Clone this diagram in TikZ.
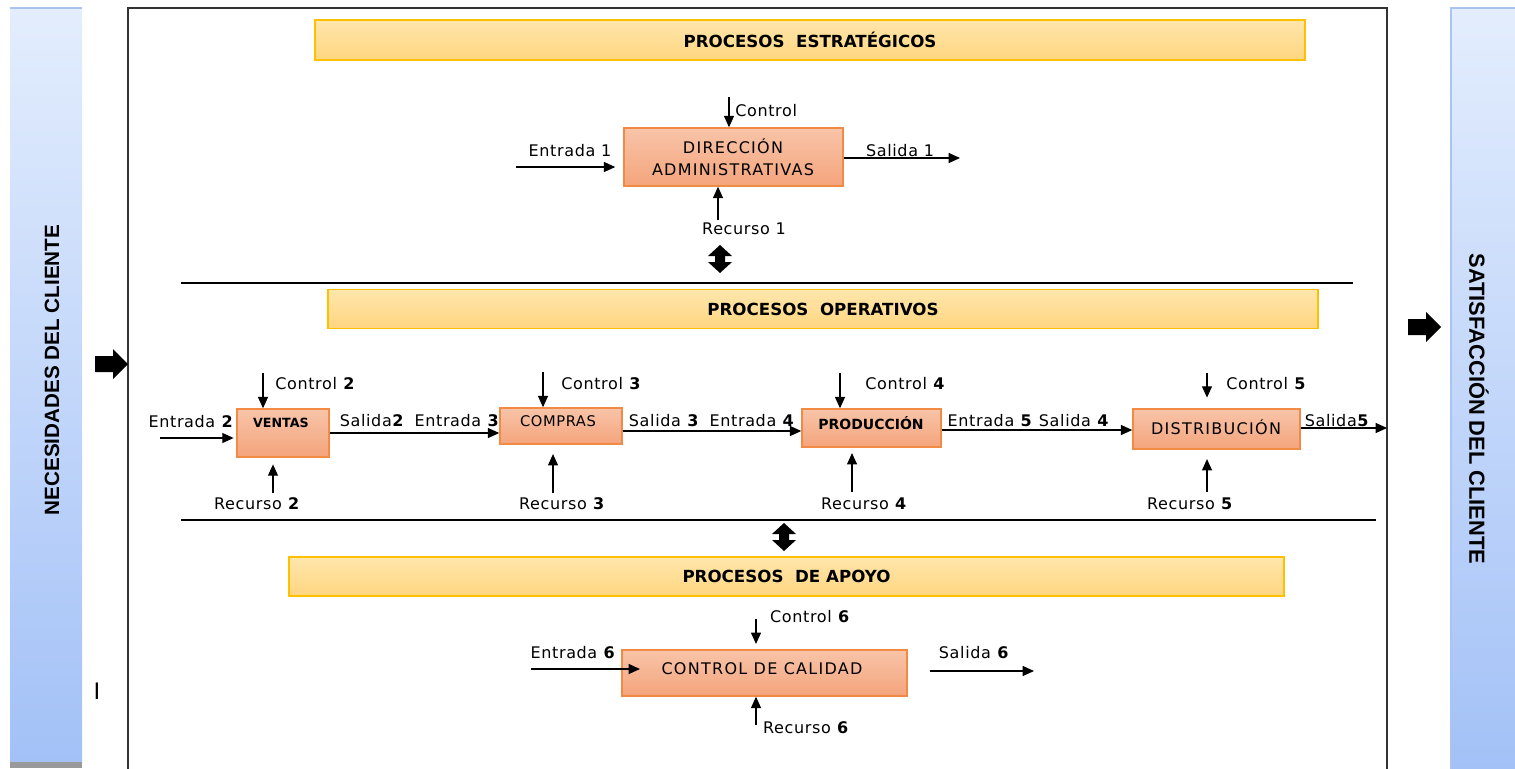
\documentclass[tikz,border=0pt]{standalone}
\usepackage{fontspec}
\setmainfont{DejaVu Sans}
\newfontfamily\lblfont[LetterSpace=4]{DejaVu Sans}
\newfontfamily\namefont[LetterSpace=8]{DejaVu Sans}
\newfontfamily\sidefont{Liberation Sans}
\usetikzlibrary{arrows.meta}

\definecolor{boxtop}{HTML}{F8C4A8}
\definecolor{boxbot}{HTML}{F4A47C}
\definecolor{boxedge}{HTML}{F08A45}
\definecolor{headtop}{HTML}{FFE6AC}
\definecolor{headbot}{HTML}{FFD680}
\definecolor{headedge}{HTML}{FFC000}
\definecolor{sidetop}{HTML}{E3EDFD}
\definecolor{sidebot}{HTML}{A3C1F7}
\definecolor{sideedge}{HTML}{A9C4EE}

\tikzset{
  updown/.pic={\fill (0,-14) -- (12,-3) -- (5,-3) -- (5,3) -- (12,3) -- (0,14)
                -- (-12,3) -- (-5,3) -- (-5,-3) -- (-12,-3) -- cycle;},
  fatarrow/.pic={\fill (-33,-8) -- (-15,-8) -- (-15,-15) -- (0,0) -- (-15,15)
                -- (-15,8) -- (-33,8) -- cycle;}
}

\begin{document}
\begin{tikzpicture}[x=0.75pt,y=-0.75pt,
  lbl/.style={font=\lblfont\fontsize{12}{13}\selectfont, inner sep=0pt},
  proc/.style={draw=boxedge, line width=1.1pt, top color=boxtop, bottom color=boxbot, inner sep=0pt},
  pname/.style={font=\namefont\fontsize{12}{16.5}\selectfont, inner sep=0pt, align=center},
  band/.style={draw=headedge, line width=1.1pt, top color=headtop, bottom color=headbot,
               inner sep=0pt, font=\bfseries\fontsize{12.5}{14}\selectfont},
  flow/.style={-{Triangle[length=8.5pt,width=7.5pt]}, line width=0.85pt},
  rule/.style={line width=1.1pt},
  side/.style={top color=sidetop, bottom color=sidebot, inner sep=0pt},
  sidetext/.style={font=\sidefont\bfseries\fontsize{15.5}{16}\selectfont, inner sep=0pt}
]
\useasboundingbox (0,0) rectangle (1515,768);
\clip (0,0) rectangle (1515,768);

% side bars
\node[side, minimum width={72*0.75pt}, minimum height={754*0.75pt}] (need) at (46,385) {};
\fill[black!40] (10,762) rectangle (82,768);
\draw[sideedge, line width=0.8pt] (10,8) -- (82,8);
\node[sidetext, rotate=90] (needtxt) at (52,370) {NECESIDADES DEL CLIENTE};

\node[side, draw=sideedge, line width=0.8pt, minimum width={80*0.75pt}, minimum height={765*0.75pt}] (sat) at (1491,390.5) {};
\node[sidetext, font=\sidefont\bfseries\fontsize{16.4}{17}\selectfont, rotate=-90] (sattxt) at (1479,409) {SATISFACCIÓN DEL CLIENTE};

\node[font=\sidefont\fontsize{18}{18}\selectfont, inner sep=0pt] (mark) at (97,691) {I};

% outer frame
\draw[line width=1.2pt, black!80] (128,8) rectangle (1387,790);

% fat arrows in and out
\pic at (128,364) {fatarrow};
\pic at (1441,327) {fatarrow};

% level bands
\node[band, minimum width={990*0.75pt}, minimum height={40*0.75pt}] (strat) at (810,40) {PROCESOS\ \ ESTRATÉGICOS};
\node[band, minimum width={990*0.75pt}, minimum height={39*0.75pt}] (oper) at (823,309) {PROCESOS\ \ OPERATIVOS};
\node[band, minimum width={995*0.75pt}, minimum height={39*0.75pt}] (apoyo) at (786.5,576.5) {PROCESOS\ \ DE APOYO};

\draw[rule] (181,283) -- (1353,283);
\draw[rule] (181,520) -- (1376,520);
\pic at (720,259) {updown};
\pic at (784,537) {updown};

% strategic process
\node[proc, minimum width={219*0.75pt}, minimum height={58*0.75pt}] (dir) at (733.5,157) {};
\node[pname] (dirname) at (733,157) {DIRECCIÓN\\ADMINISTRATIVAS};
\coordinate (c1) at (729,97);
\coordinate (r1) at (718,220);
\coordinate (e1) at (516,167);
\coordinate (s1) at (960,158);
\draw[flow] (c1) -- (c1 |- dir.north);
\draw[flow] (r1) -- (r1 |- dir.south);
\draw[flow, shorten >=6pt] (e1) -- (e1 -| dir.west);
\draw[flow] (dir.east |- s1) -- (s1);
\node[lbl, anchor=west] (c1l) at (735,111) {Control};
\node[lbl] (e1l) at (570,151) {Entrada 1};
\node[lbl] (s1l) at (900,151) {Salida 1};
\node[lbl] (r1l) at (744,229) {Recurso 1};

% operative processes
\node[proc, minimum width={92*0.75pt}, minimum height={48*0.75pt}] (ventas) at (283,433) {};
\node[font=\bfseries\fontsize{9.5}{11}\selectfont, inner sep=0pt] (ventasname) at (281,423) {VENTAS};
\node[proc, minimum width={122*0.75pt}, minimum height={36*0.75pt}] (compras) at (561,426) {};
\node[font=\lblfont\fontsize{11}{12}\selectfont, inner sep=0pt] (comprasname) at (558,421) {COMPRAS};
\node[proc, minimum width={139*0.75pt}, minimum height={38*0.75pt}] (prod) at (871.5,428) {};
\node[font=\bfseries\fontsize{10.5}{11}\selectfont, inner sep=0pt] (prodname) at (871,423) {PRODUCCIÓN};
\node[proc, minimum width={167*0.75pt}, minimum height={40*0.75pt}] (dist) at (1216.5,429) {};
\node[pname] (distname) at (1216,427) {DISTRIBUCIÓN};

\coordinate (row23) at (0,433);
\coordinate (row34) at (0,431);
\coordinate (row45) at (0,430);
\coordinate (in2) at (160,438);
\coordinate (out5) at (1387,428);
\draw[flow, shorten >=2pt] (in2) -- (in2 -| ventas.west);
\draw[flow] (ventas.east |- row23) -- (compras.west |- row23);
\draw[flow] (compras.east |- row34) -- (prod.west |- row34);
\draw[flow] (prod.east |- row45) -- (dist.west |- row45);
\draw[flow] (dist.east |- out5) -- (out5);

\coordinate (c2) at (263,373);
\coordinate (c3) at (543,372);
\coordinate (c4) at (840,373);
\coordinate (c5) at (1207,373);
\coordinate (r2) at (273,493);
\coordinate (r3) at (553,493);
\coordinate (r4) at (852,492);
\coordinate (r5) at (1207,492);
\draw[flow] (c2) -- (c2 |- ventas.north);
\draw[flow] (c3) -- (c3 |- compras.north);
\draw[flow] (c4) -- (c4 |- prod.north);
\draw[flow, shorten >=8pt] (c5) -- (c5 |- dist.north);
\draw[flow, shorten >=5pt] (r2) -- (r2 |- ventas.south);
\draw[flow, shorten >=7pt] (r3) -- (r3 |- compras.south);
\draw[flow, shorten >=4pt] (r4) -- (r4 |- prod.south);
\draw[flow, shorten >=7pt] (r5) -- (r5 |- dist.south);

\node[lbl, anchor=west] (c2l) at (275,384) {Control \textbf{2}};
\node[lbl, anchor=west] (c3l) at (561,384) {Control \textbf{3}};
\node[lbl, anchor=west] (c4l) at (865,384) {Control \textbf{4}};
\node[lbl, anchor=west] (c5l) at (1226,384) {Control \textbf{5}};
\node[lbl] (e2l) at (191,422) {Entrada \textbf{2}};
\node[lbl] (s2l) at (372,421) {Salida\textbf{2}};
\node[lbl] (e3l) at (457,421) {Entrada \textbf{3}};
\node[lbl] (s3l) at (664,421) {Salida \textbf{3}};
\node[lbl] (e4l) at (752,421) {Entrada \textbf{4}};
\node[lbl] (e5l) at (990,421) {Entrada \textbf{5}};
\node[lbl] (s4l) at (1074,421) {Salida \textbf{4}};
\node[lbl] (s5l) at (1337,421) {Salida\textbf{5}};
\node[lbl] (r2l) at (257,504) {Recurso \textbf{2}};
\node[lbl] (r3l) at (562,504) {Recurso \textbf{3}};
\node[lbl] (r4l) at (864,504) {Recurso \textbf{4}};
\node[lbl] (r5l) at (1190,504) {Recurso \textbf{5}};

% support process
\node[proc, minimum width={285*0.75pt}, minimum height={46*0.75pt}] (cal) at (764.5,673) {};
\node[pname] (calname) at (762,669) {CONTROL DE CALIDAD};
\coordinate (c6) at (756,619);
\coordinate (r6) at (756,725);
\coordinate (e6) at (531,669);
\coordinate (s6) at (1034,671);
\draw[flow, shorten >=4pt] (c6) -- (c6 |- cal.north);
\draw[flow] (r6) -- (r6 |- cal.south);
\draw[flow, shorten >=-14pt] (e6) -- (e6 -| cal.west);
\draw[flow, shorten <=16.5pt] (cal.east |- s6) -- (s6);
\node[lbl] (c6l) at (810,617) {Control \textbf{6}};
\node[lbl] (e6l) at (573,653) {Entrada \textbf{6}};
\node[lbl] (s6l) at (974,653) {Salida \textbf{6}};
\node[lbl] (r6l) at (806,728) {Recurso \textbf{6}};
\end{tikzpicture}
\end{document}
